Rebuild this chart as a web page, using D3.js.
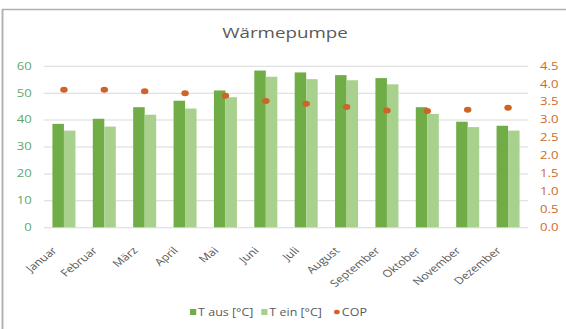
<html>
<head>
    <meta charset="utf-8">
    <script src="https://d3js.org/d3.v7.min.js"></script>
    <title>Wärmepumpe</title>
    <style>
        body { margin: 0; background: #fff; }
        svg text { font-family: "Open Sans", sans-serif; }
    </style>
</head>
<body>
    <svg id="chart"></svg>
    <script>
        // data
        const months = ["Januar", "Februar", "März", "April", "Mai", "Juni", "Juli",
                        "August", "September", "Oktober", "November", "Dezember"];
        const tAus = [38.4, 40.3, 44.6, 47.0, 50.8, 58.2, 57.5, 56.5, 55.4, 44.6, 39.2, 37.7];
        const tEin = [35.9, 37.4, 41.8, 44.1, 48.3, 55.9, 55.0, 54.6, 53.1, 42.1, 37.2, 35.9];
        const cop = [3.83, 3.83, 3.79, 3.73, 3.66, 3.52, 3.44, 3.35, 3.25, 3.24, 3.27, 3.33];
        const seriesNames = ["T aus [°C]", "T ein [°C]", "COP"];
        const leftTicks = [0, 10, 20, 30, 40, 50, 60];
        const rightTicks = [0, 0.5, 1, 1.5, 2, 2.5, 3, 3.5, 4, 4.5];

        // the original picture is stretched sideways, so draw in a narrower box
        const W = 566, H = 329, stretch = 1.25;
        const vw = W / stretch;

        const svg = d3.select("#chart")
                      .attr("width", W).attr("height", H)
                      .attr("viewBox", `0 0 ${vw} ${H}`)
                      .attr("preserveAspectRatio", "none");

        const green = "#70ad47", lightGreen = "#a9d18e", orange = "#d0632a";
        const grey = "#595959";

        // chart frame
        svg.append("rect")
           .attr("x", 2.5 / stretch).attr("y", 9.5)
           .attr("width", vw + 10).attr("height", H + 10)
           .attr("fill", "none").attr("stroke", "#b0b0b0").attr("stroke-width", 1.5);

        const plotL = 35, plotR = 422.6, plotT = 65.7, plotB = 227.3;

        const x = d3.scaleBand().domain(months).range([plotL, plotR])
                    .paddingInner(0.43).paddingOuter(0.215);
        const xs = d3.scaleBand().domain([0, 1]).range([0, x.bandwidth()]);
        const y = d3.scaleLinear().domain([0, 60]).range([plotB, plotT]);
        const y2 = d3.scaleLinear().domain([0, 4.5]).range([plotB, plotT]);

        // gridlines
        svg.append("g")
           .attr("transform", `translate(${plotL},0)`)
           .call(d3.axisLeft(y).tickValues(leftTicks).tickSize(-(plotR - plotL)).tickFormat(""))
           .call(g => g.select(".domain").remove())
           .call(g => g.selectAll("line").attr("stroke", "#d9d9d9").attr("stroke-width", 1));

        // left axis
        svg.append("g")
           .attr("transform", `translate(${plotL},0)`)
           .call(d3.axisLeft(y).tickValues(leftTicks).tickSize(0).tickPadding(9.5))
           .call(g => g.select(".domain").remove())
           .call(g => g.selectAll("text").attr("fill", "#5fa86a")
                       .style("font-size", "10.5px"));

        // right axis
        svg.append("g")
           .attr("transform", `translate(${plotR},0)`)
           .call(d3.axisRight(y2).tickValues(rightTicks).tickSize(0).tickPadding(9.5)
                   .tickFormat(d3.format(".1f")))
           .call(g => g.select(".domain").remove())
           .call(g => g.selectAll("text").attr("fill", "#cc6a2c")
                       .style("font-size", "10.5px"));

        // month labels
        svg.append("g")
           .attr("transform", `translate(0,${plotB})`)
           .call(d3.axisBottom(x).tickSize(0))
           .call(g => g.select(".domain").remove())
           .call(g => g.selectAll("text")
                       .attr("fill", grey)
                       .style("font-size", "10px")
                       .attr("text-anchor", "end")
                       .attr("x", 0).attr("y", 0).attr("dy", 0)
                       .attr("transform", "translate(-5,24) rotate(-45)"));

        // bars
        const bars = svg.append("g");
        [tAus, tEin].forEach((vals, i) => {
            bars.selectAll("rect.s" + i)
                .data(vals)
                .join("rect")
                .attr("class", "s" + i)
                .attr("x", (d, j) => x(months[j]) + xs(i))
                .attr("width", xs.bandwidth())
                .attr("y", d => y(d))
                .attr("height", d => plotB - y(d))
                .attr("fill", i == 0 ? green : lightGreen);
        });

        // COP points
        svg.append("g")
           .selectAll("circle")
           .data(cop)
           .join("circle")
           .attr("cx", (d, j) => x(months[j]) + x.bandwidth() / 2)
           .attr("cy", d => y2(d))
           .attr("r", 3)
           .attr("fill", orange);

        // title
        svg.append("text")
           .attr("x", 228).attr("y", 38)
           .attr("text-anchor", "middle")
           .attr("fill", grey)
           .style("font-size", "15px")
           .text("Wärmepumpe");

        // legend
        const legend = svg.append("g").attr("transform", "translate(0,312)");
        const legX = [152, 209, 267];
        seriesNames.forEach((name, i) => {
            const item = legend.append("g").attr("transform", `translate(${legX[i]},0)`);
            if (i < 2) {
                item.append("rect").attr("x", 0).attr("y", -3).attr("width", 5).attr("height", 6)
                    .attr("fill", i == 0 ? green : lightGreen);
            } else {
                item.append("circle").attr("cx", 2.5).attr("cy", 0).attr("r", 2.3).attr("fill", orange);
            }
            item.append("text")
                .attr("x", 6.5).attr("y", 0).attr("dy", "0.35em")
                .attr("fill", grey)
                .style("font-size", "10px")
                .text(name);
        });
    </script>
</body>
</html>
